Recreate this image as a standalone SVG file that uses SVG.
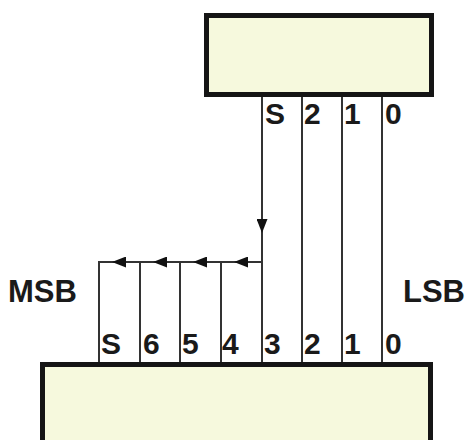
<svg xmlns="http://www.w3.org/2000/svg" width="468" height="440" viewBox="0 0 468 440">
<style>
.box{fill:#f6f9dd;stroke:#151515;stroke-width:5}
.w{stroke:#333;stroke-width:2;fill:none}
.t{font-family:"Liberation Sans",Arial,sans-serif;font-weight:bold;font-size:30px;fill:#1a1a1a}
.big{font-size:31px}
</style>
<defs>
<marker id="ah" viewBox="0 0 14 11" refX="14" refY="5.5" markerWidth="14" markerHeight="11" markerUnits="userSpaceOnUse" orient="auto">
<path d="M0,0 L14,5.5 L0,11 Z" fill="#111"/>
</marker>
</defs>
<rect width="468" height="440" fill="#fff"/>
<g id="top-register">
<rect class="box" x="206.5" y="15.5" width="225" height="79"/>
<text class="t" x="265" y="124">S</text>
<text class="t" x="304" y="124">2</text>
<text class="t" x="344" y="124">1</text>
<text class="t" x="385" y="124">0</text>
</g>
<g id="bottom-register">
<rect class="box" x="42.5" y="364.5" width="388" height="90"/>
<text class="t" x="101" y="354">S</text>
<text class="t" x="143" y="354">6</text>
<text class="t" x="182" y="354">5</text>
<text class="t" x="222" y="354">4</text>
<text class="t" x="264" y="354">3</text>
<text class="t" x="304" y="354">2</text>
<text class="t" x="344" y="354">1</text>
<text class="t" x="385" y="354">0</text>
</g>
<g id="msb"><text class="t big" x="8" y="302">MSB</text></g>
<g id="lsb"><text class="t big" x="403" y="302">LSB</text></g>
<g id="connectors">
<line class="w" x1="262" y1="97" x2="262" y2="233" marker-end="url(#ah)"/>
<line class="w" x1="262" y1="233" x2="262" y2="362"/>
<line class="w" x1="302" y1="97" x2="302" y2="362"/>
<line class="w" x1="342" y1="97" x2="342" y2="362"/>
<line class="w" x1="382" y1="97" x2="382" y2="362"/>
<line class="w" x1="262" y1="262" x2="234" y2="262" marker-end="url(#ah)"/>
<line class="w" x1="234" y1="262" x2="193" y2="262" marker-end="url(#ah)"/>
<line class="w" x1="193" y1="262" x2="153" y2="262" marker-end="url(#ah)"/>
<line class="w" x1="153" y1="262" x2="112" y2="262" marker-end="url(#ah)"/>
<line class="w" x1="112" y1="262" x2="98" y2="262"/>
<line class="w" x1="99" y1="261" x2="99" y2="362"/>
<line class="w" x1="140" y1="262" x2="140" y2="362"/>
<line class="w" x1="180" y1="262" x2="180" y2="362"/>
<line class="w" x1="221" y1="262" x2="221" y2="362"/>
</g>
</svg>
